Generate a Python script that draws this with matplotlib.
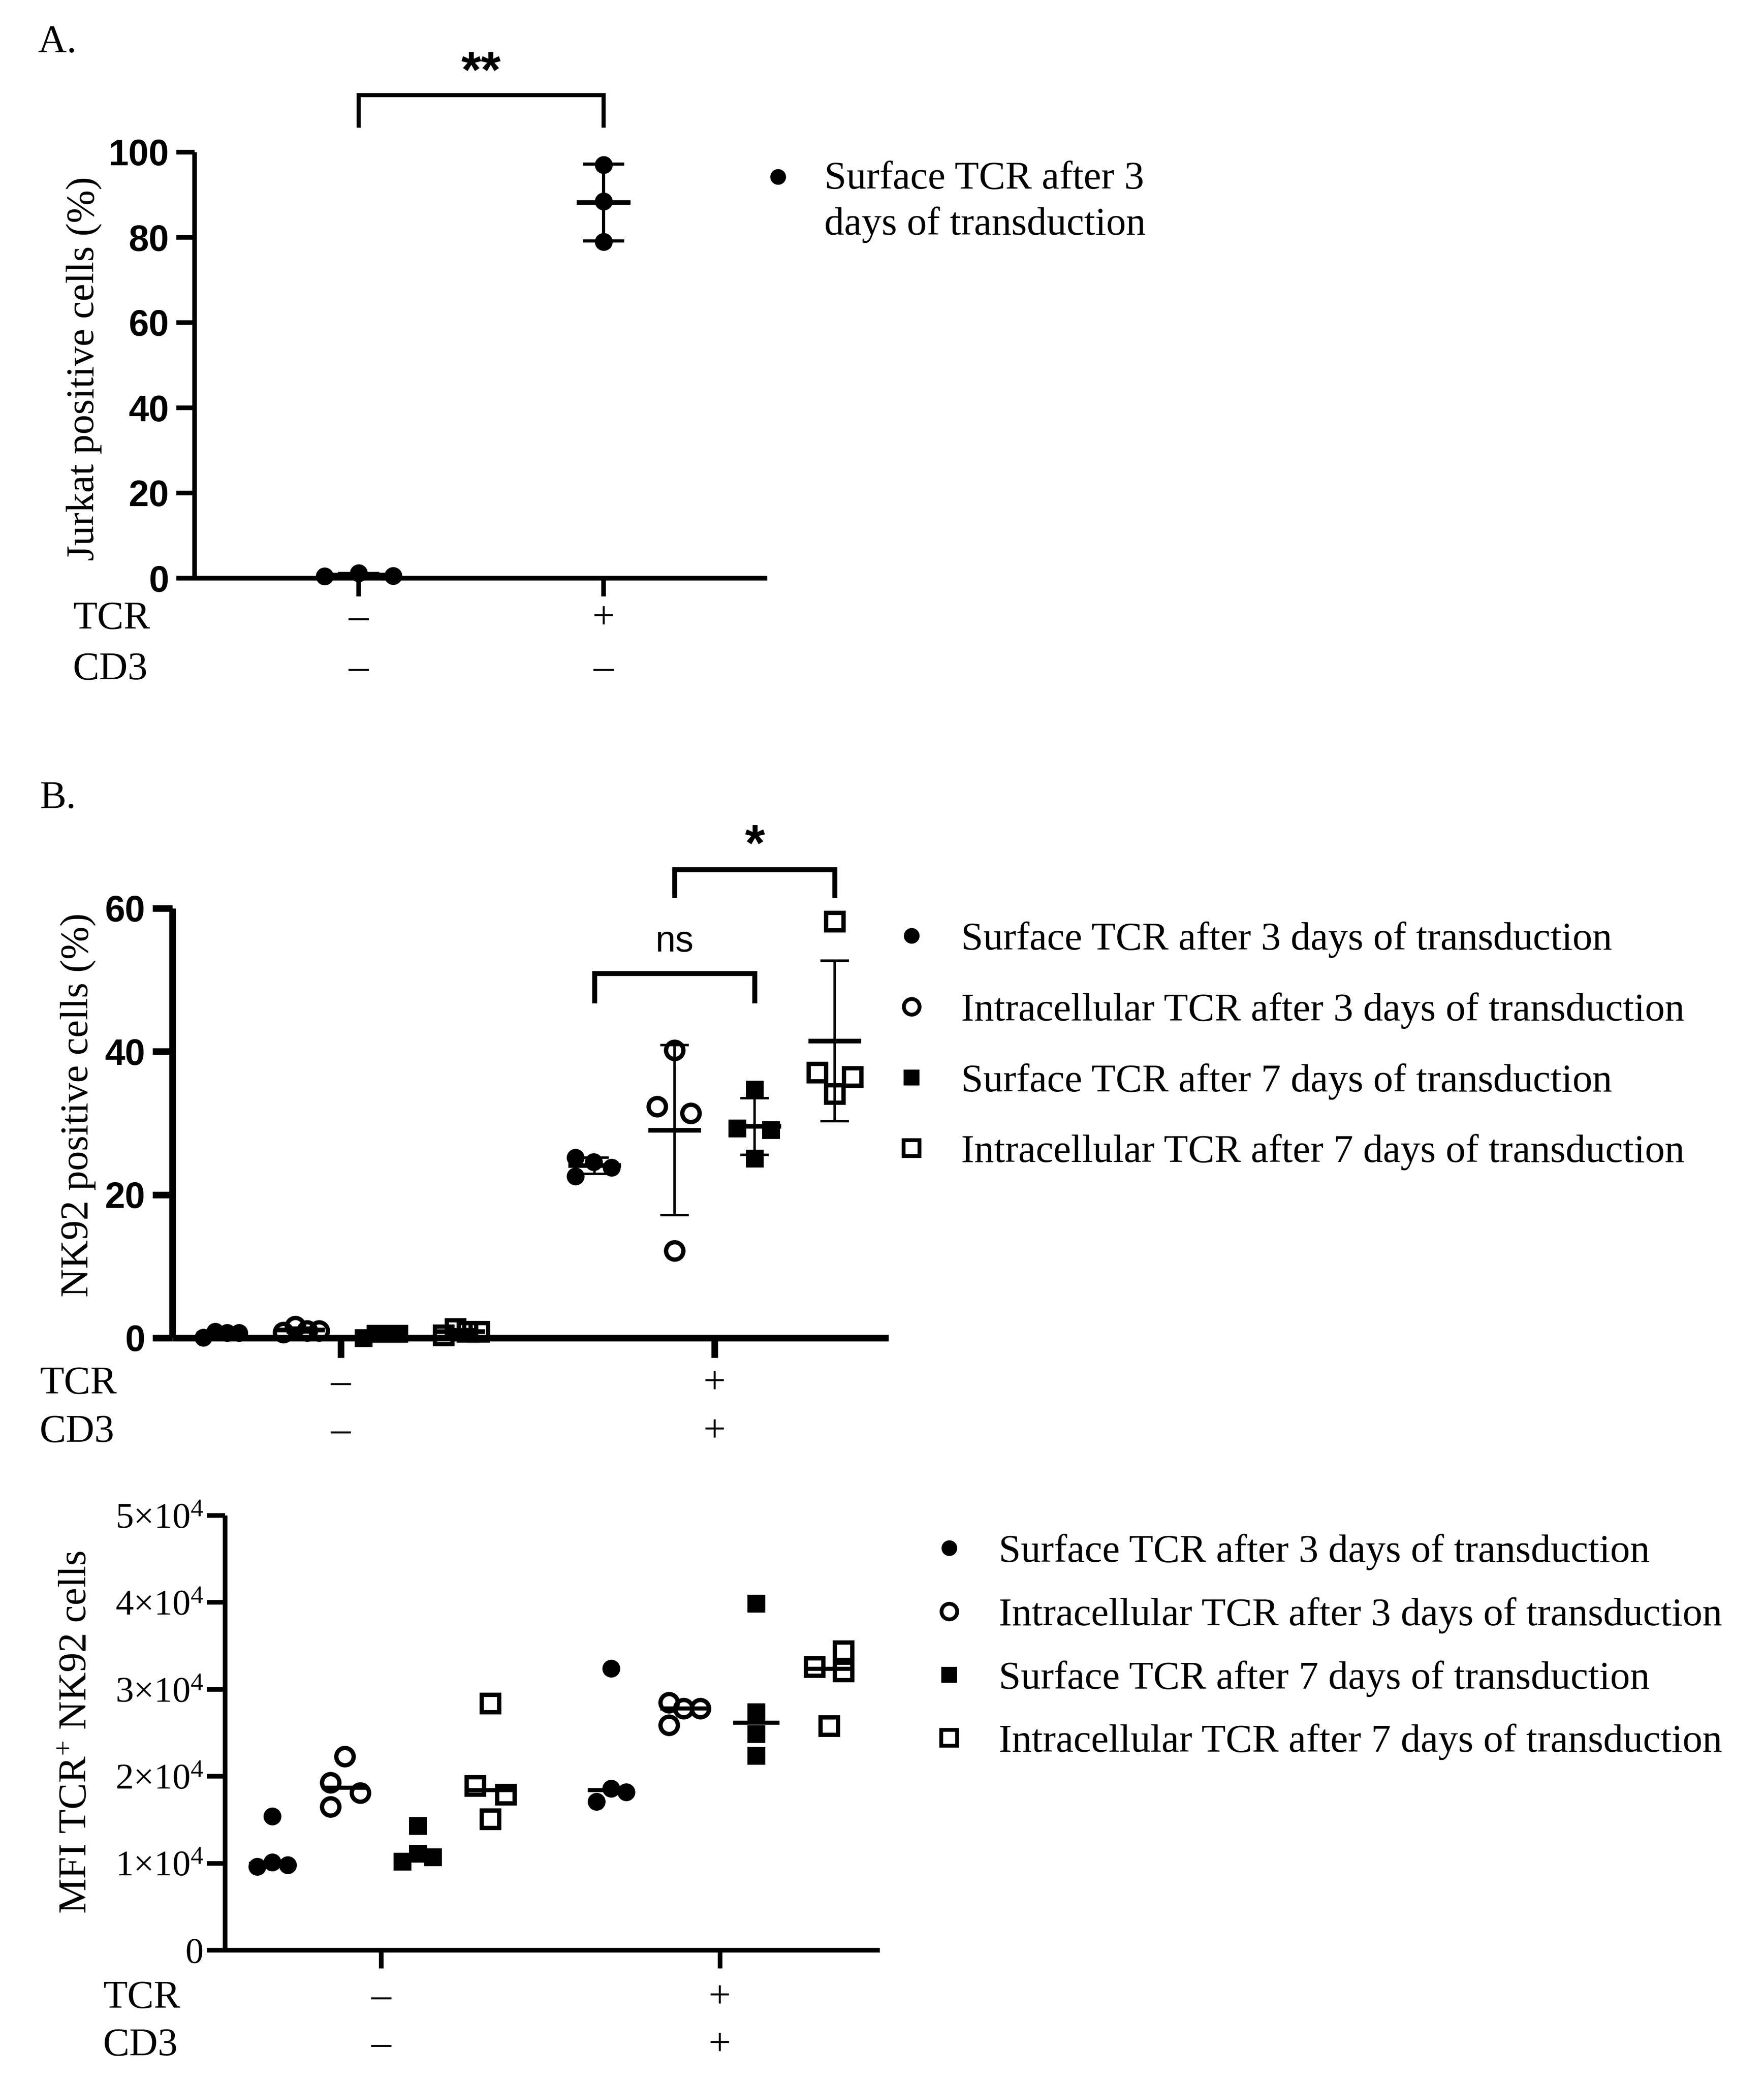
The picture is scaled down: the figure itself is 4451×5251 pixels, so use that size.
import numpy as np
from matplotlib import pyplot as plt
from matplotlib import transforms
from matplotlib.lines import Line2D

plt.rcParams['font.family'] = ['Liberation Serif', 'DejaVu Serif']
plt.rcParams['mathtext.fontset'] = 'custom'
plt.rcParams['mathtext.rm'] = 'Liberation Serif'
plt.rcParams['mathtext.it'] = 'Liberation Serif:italic'
plt.rcParams['mathtext.bf'] = 'Liberation Serif:bold'

SANS = ['Liberation Sans Narrow', 'Liberation Sans', 'DejaVu Sans']

# ---------------- data ----------------
row_names = ['TCR', 'CD3']

# panel A: Jurkat
a_signs = [['–', '+'], ['–', '–']]
a_ticks = [0, 20, 40, 60, 80, 100]
a_legend = 'Surface TCR after 3\ndays of transduction'
a_tcr_neg = [0.5, 1.2, 0.6]
a_tcr_pos = [97.0, 88.5, 79.0]
a_spread_neg = [-0.14, 0.0, 0.14]
a_spread_pos = [0.0, 0.0, 0.0]
a_sig = '**'

series_labels = ['Surface TCR after 3 days of transduction',
                 'Intracellular TCR after 3 days of transduction',
                 'Surface TCR after 7 days of transduction',
                 'Intracellular TCR after 7 days of transduction']
series_markers = ['o', 'o', 's', 's']
series_filled = [True, False, True, False]

# panel B: NK92 positive cells (%)
b_signs = [['–', '+'], ['–', '+']]
b_ticks = [0, 20, 40, 60]
b_surf3_neg = [0.05, 0.9, 0.7, 0.7]
b_intra3_neg = [0.8, 1.6, 1.0, 1.0]
b_surf7_neg = [0.0, 0.6, 0.6, 0.6]
b_intra7_neg = [0.4, 1.3, 0.9, 0.9]
b_surf3_pos = [25.2, 24.6, 23.8, 22.6]
b_intra3_pos = [40.2, 32.3, 31.4, 12.2]
b_surf7_pos = [34.7, 29.3, 29.05, 25.1]
b_intra7_pos = [58.2, 37.1, 36.5, 34.1]
b_spread_neg = [-0.22, -0.07, 0.08, 0.23]
b_spread_pos = [[-0.24, -0.01, 0.21, -0.24],
                [0.0, -0.22, 0.2, 0.0],
                [0.0, -0.22, 0.2, 0.0],
                [0.0, -0.22, 0.22, 0.0]]
b_sig_labels = ['ns', '*']

# panel C: MFI TCR+ NK92 cells
c_signs = [['–', '+'], ['–', '+']]
c_ticks = [0, 10000, 20000, 30000, 40000, 50000]
c_tick_labels = ['0', r'$1{\times}10^{4}$', r'$2{\times}10^{4}$',
                 r'$3{\times}10^{4}$', r'$4{\times}10^{4}$', r'$5{\times}10^{4}$']
c_surf3_neg = [9600, 10100, 9800, 15400]
c_intra3_neg = [22300, 19300, 18100, 16500]
c_surf7_neg = [14300, 11100, 10200, 10700]
c_intra7_neg = [28400, 18900, 17900, 15100]
c_surf3_pos = [32400, 17100, 18600, 18200]
c_intra3_pos = [28500, 25900, 27800, 27800]
c_surf7_pos = [39900, 27400, 24900, 22400]
c_intra7_pos = [32600, 34400, 32100, 25800]
c_spread_neg = [[-0.21, 0.0, 0.21, 0.0],
                [0.0, -0.2, 0.21, -0.2],
                [0.0, 0.0, -0.21, 0.21],
                [0.0, -0.21, 0.21, 0.0]]
c_spread_pos = [[0.0, -0.2, 0.0, 0.21],
                [-0.2, -0.2, 0.0, 0.23],
                [0.0, 0.0, 0.0, 0.0],
                [-0.2, 0.2, 0.2, 0.0]]

# ---------------- layout ----------------
W, H = 4451, 5251
DPI = 300
FS = 24

fig = plt.figure(figsize=(W / DPI, H / DPI), dpi=DPI)


def box(left, top, right, bottom):
    return [left / W, 1 - bottom / H, (right - left) / W, (bottom - top) / H]


def fy(py):
    return 1 - py / H


def style_axes(ax, lw, tick_len):
    for side in ('top', 'right'):
        ax.spines[side].set_visible(False)
    for side in ('left', 'bottom'):
        ax.spines[side].set_linewidth(lw)
        ax.spines[side].set_capstyle('butt')
    ax.tick_params(axis='both', direction='out', length=tick_len, width=lw,
                   colors='black', labelbottom=False)


def bold_sans_ticks(ax, size):
    for t in ax.get_yticklabels():
        t.set_family(SANS)
        t.set_fontweight('bold')
        t.set_fontsize(size)


def draw_points(ax, x0, values, spread, marker, filled):
    xs = x0 + np.asarray(spread)
    if filled:
        ax.plot(xs, values, ls='none', marker=marker, ms=10.8, mfc='black',
                mec='black', mew=0, clip_on=False, zorder=3)
    else:
        ax.plot(xs, values, ls='none', marker=marker, ms=10.5, mfc='none',
                mec='black', mew=2.6, clip_on=False, zorder=3)


def mean_sd(ax, x, values, half, cap, lw_mean, lw_sd):
    m = np.mean(values)
    s = np.std(values, ddof=1)
    ax.plot([x - half, x + half], [m, m], color='black', lw=lw_mean,
            solid_capstyle='butt', clip_on=False, zorder=4)
    ax.errorbar([x], [m], yerr=[s], fmt='none', ecolor='black',
                elinewidth=lw_sd, capsize=cap, capthick=lw_sd,
                clip_on=False, zorder=4)


def median_line(ax, x, values, half, lw):
    m = np.median(values)
    ax.plot([x - half, x + half], [m, m], color='black', lw=lw,
            solid_capstyle='butt', clip_on=False, zorder=4)


def sign_rows(ax, xs, signs, rows_y, label_x):
    tr = transforms.blended_transform_factory(ax.transData, fig.transFigure)
    for name, row, py in zip(row_names, signs, rows_y):
        fig.text(label_x / W, fy(py), name, ha='left', va='center', fontsize=FS)
        for x, s in zip(xs, row):
            ax.text(x, fy(py), s, transform=tr, ha='center', va='center',
                    fontsize=FS)


def bracket(ax, x1, x2, y, leg, lw):
    ax.plot([x1, x1, x2, x2], [leg, y, y, leg], color='black', lw=lw,
            solid_joinstyle='miter', clip_on=False)


# ---------------- panel A ----------------
axA = fig.add_axes(box(491, 384, 1936, 1459))
a_pos = [1, 2]
axA.set_xlim(0.33, 2.668)
axA.set_ylim(0, 100)
axA.set_xticks(a_pos)
axA.set_yticks(a_ticks)
style_axes(axA, 2.8, 11)
bold_sans_ticks(axA, 22)
axA.tick_params(axis='y', pad=4.5)

draw_points(axA, a_pos[0], a_tcr_neg, a_spread_neg, 'o', True)
draw_points(axA, a_pos[1], a_tcr_pos, a_spread_pos, 'o', True)
for x, vals in zip(a_pos, [a_tcr_neg, a_tcr_pos]):
    mean_sd(axA, x, vals, 0.11, 12.5, 2.8, 1.9)

bracket(axA, a_pos[0], a_pos[1], 113.4, 106.2, 2.5)
axA.text(np.mean(a_pos), 118.3, a_sig, ha='center', va='center',
         fontsize=31, fontweight='bold', family=SANS)

axA.set_ylabel('Jurkat positive cells (%)', fontsize=FS, va='center',
               rotation_mode='default')
axA.yaxis.set_label_coords((212 - 491) / 1445, (1459 - 930) / 1075)
sign_rows(axA, a_pos, a_signs, [1562, 1690], 184)
fig.text(96 / W, fy(108), 'A.', ha='left', va='center', fontsize=FS)

fig.add_artist(Line2D([1963 / W], [fy(446)], transform=fig.transFigure,
                      marker='o', ms=9.5, mfc='black', mec='black', mew=0))
fig.text(2080 / W, fy(510), a_legend, ha='left', va='center', fontsize=FS,
         linespacing=1.34)

# ---------------- panel B ----------------
axB = fig.add_axes(box(435, 2292, 2242, 3376))
b_neg = [b_surf3_neg, b_intra3_neg, b_surf7_neg, b_intra7_neg]
b_posv = [b_surf3_pos, b_intra3_pos, b_surf7_pos, b_intra7_pos]
b_x_neg = np.arange(4) * 1.0
b_x_pos = 4.67 + np.arange(4)
b_groups = [np.mean(b_x_neg[1:3]), np.mean(b_x_pos[1:3])]
axB.set_xlim(-0.604, 8.342)
axB.set_ylim(0, 60)
axB.set_xticks(b_groups)
axB.set_yticks(b_ticks)
style_axes(axB, 4.0, 12)
bold_sans_ticks(axB, 22)
axB.tick_params(axis='y', pad=4.5)

for i in range(4):
    draw_points(axB, b_x_neg[i], b_neg[i], b_spread_neg, series_markers[i],
                series_filled[i])
    draw_points(axB, b_x_pos[i], b_posv[i], b_spread_pos[i],
                series_markers[i], series_filled[i])
    mean_sd(axB, b_x_neg[i], b_neg[i], 0.3, 8.7, 2.8, 1.5)
    mean_sd(axB, b_x_pos[i], b_posv[i], 0.33, 8.7, 2.8, 1.5)

bracket(axB, b_x_pos[0], b_x_pos[2], 50.9, 47.1, 3.0)
axB.text(b_x_pos[1], 55.3, b_sig_labels[0], ha='center', va='center',
         fontsize=22, family=SANS)
bracket(axB, b_x_pos[1], b_x_pos[3], 65.4, 61.8, 3.0)
axB.text(b_x_pos[2], 68.5, b_sig_labels[1], ha='center', va='center',
         fontsize=31, fontweight='bold', family=SANS)

axB.set_ylabel('NK92 positive cells (%)', fontsize=FS, va='center',
               rotation_mode='default')
axB.yaxis.set_label_coords((197 - 435) / 1807, (3376 - 2788) / 1084)
sign_rows(axB, b_groups, b_signs, [3492, 3614], 100)
fig.text(100 / W, fy(2015), 'B.', ha='left', va='center', fontsize=FS)


def legend_handles(ms):
    hs = []
    for m, f in zip(series_markers, series_filled):
        hs.append(Line2D([], [], ls='none', marker=m, ms=ms,
                         mfc='black' if f else 'none', mec='black',
                         mew=0 if f else 2.3))
    return hs


fig.legend(legend_handles(9.5), series_labels, loc='upper left',
           bbox_to_anchor=(2250 / W, fy(2325)), bbox_transform=fig.transFigure,
           frameon=False, fontsize=FS, handlelength=1.0, handletextpad=0.75,
           labelspacing=0.87, borderpad=0, borderaxespad=0)

# ---------------- panel C ----------------
axC = fig.add_axes(box(568, 3824, 2220, 4921))
c_neg = [c_surf3_neg, c_intra3_neg, c_surf7_neg, c_intra7_neg]
c_posv = [c_surf3_pos, c_intra3_pos, c_surf7_pos, c_intra7_pos]
c_x_neg = np.arange(4) * 1.0
c_x_pos = 4.66 + np.arange(4)
c_groups = [np.mean(c_x_neg[1:3]), np.mean(c_x_pos[1:3])]
axC.set_xlim(-0.649, 8.36)
axC.set_ylim(0, 50000)
axC.set_xticks(c_groups)
axC.set_yticks(c_ticks, labels=c_tick_labels)
style_axes(axC, 2.8, 11)
axC.tick_params(axis='y', labelsize=22, pad=2)

for i in range(4):
    draw_points(axC, c_x_neg[i], c_neg[i], c_spread_neg[i], series_markers[i],
                series_filled[i])
    draw_points(axC, c_x_pos[i], c_posv[i], c_spread_pos[i],
                series_markers[i], series_filled[i])
    median_line(axC, c_x_neg[i], c_neg[i], 0.32, 2.5)
    median_line(axC, c_x_pos[i], c_posv[i], 0.32, 2.5)

axC.set_ylabel('MFI TCR$^{+}$ NK92 cells', fontsize=FS, va='center',
               rotation_mode='default')
axC.yaxis.set_label_coords((192 - 568) / 1652, (4921 - 4371) / 1097)
sign_rows(axC, c_groups, c_signs, [5042, 5162], 260)

fig.legend(legend_handles(9.5), series_labels, loc='upper left',
           bbox_to_anchor=(2345 / W, fy(3870)), bbox_transform=fig.transFigure,
           frameon=False, fontsize=FS, handlelength=1.0, handletextpad=0.75,
           labelspacing=0.68, borderpad=0, borderaxespad=0)

fig.savefig('out.png', dpi=DPI, facecolor='white')
